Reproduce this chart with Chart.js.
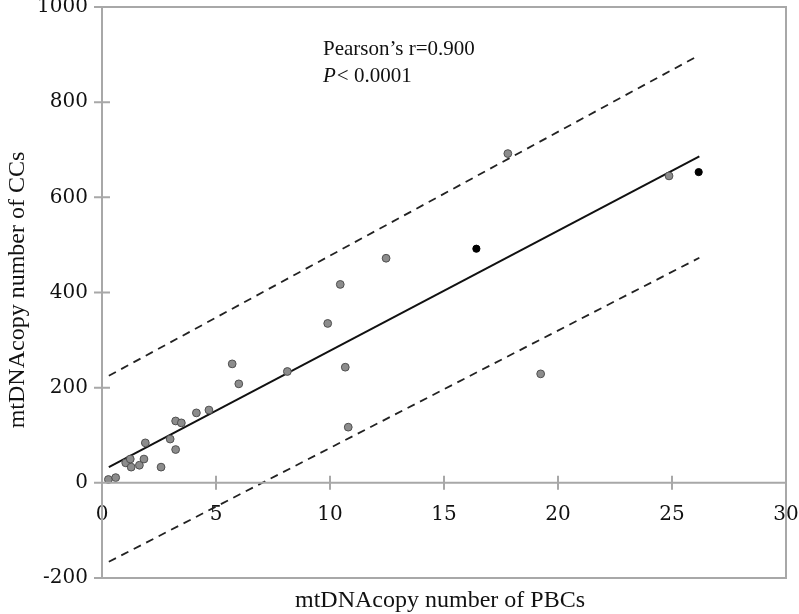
<!DOCTYPE html>
<html>
<head>
<meta charset="utf-8">
<script src="https://cdn.jsdelivr.net/npm/chart.js@4.4.1/dist/chart.umd.min.js"></script>
<style>
html, body { margin: 0; padding: 0; background: #fff; }
</style>
</head>
<body>
<canvas id="chart" width="799" height="614"></canvas>
<script>
// mtDNA copy number: PBCs (x) vs CCs (y)
var pbcX = [0.28, 0.60, 1.04, 1.24, 1.28, 1.64, 1.84, 1.90, 2.59, 2.99, 3.23, 3.23, 3.48, 4.14, 4.69,
            5.71, 6.00, 8.13, 9.90, 10.45, 10.67, 10.80, 12.46, 17.80, 19.24, 24.87];
var ccY = [7, 11, 42, 50, 33, 37, 50, 84, 33, 92, 70, 130, 126, 147, 153,
           250, 208, 234, 335, 417, 243, 117, 472, 692, 229, 645];

// two highlighted (black) samples
var blackX = [16.42, 26.17];
var blackY = [492, 653];

// regression line and prediction band ends
var fitX = [0.3, 26.2];
var fitY = [33, 686];
var upperY = [225, 899];
var lowerY = [-166, 473];

var xTicks = [0, 5, 10, 15, 20, 25, 30];
var yTicks = [-200, 0, 200, 400, 600, 800, 1000];

function pairs(xs, ys) {
  return xs.map(function (x, i) { return { x: x, y: ys[i] }; });
}

var axisGrey = '#a8a8a8';
var tickFont = { family: 'DejaVu Serif', size: 20 };
var titleFont = '24px "Liberation Serif"';
var noteFont = '21px "Liberation Serif"';

// frame, zero line, tick marks, titles and the r / P note
var decorations = {
  id: 'decorations',
  afterDatasetsDraw: function (chart) {
    var ctx = chart.ctx;
    var a = chart.chartArea;
    var xs = chart.scales.x;
    var ys = chart.scales.y;
    var y0 = ys.getPixelForValue(0);

    ctx.save();
    ctx.strokeStyle = axisGrey;
    ctx.lineWidth = 2;
    ctx.strokeRect(a.left, a.top, a.right - a.left, a.bottom - a.top);

    ctx.beginPath();
    ctx.moveTo(a.left, y0);
    ctx.lineTo(a.right, y0);
    yTicks.forEach(function (v) {
      var p = ys.getPixelForValue(v);
      ctx.moveTo(a.left - 8, p);
      ctx.lineTo(a.left + 8, p);
    });
    xTicks.forEach(function (v) {
      var p = xs.getPixelForValue(v);
      ctx.moveTo(p, y0 - 7);
      ctx.lineTo(p, y0 + 7);
    });
    ctx.stroke();

    ctx.fillStyle = '#111';
    ctx.font = titleFont;
    ctx.textAlign = 'center';
    ctx.textBaseline = 'middle';
    ctx.fillText('mtDNAcopy number of PBCs', 440, 601);

    ctx.translate(18, 290);
    ctx.rotate(-Math.PI / 2);
    ctx.fillText('mtDNAcopy number of CCs', 0, 0);
    ctx.restore();

    ctx.save();
    ctx.fillStyle = '#111';
    ctx.textAlign = 'left';
    ctx.textBaseline = 'alphabetic';
    ctx.font = noteFont;
    ctx.fillText('Pearson\u2019s r=0.900', 323, 55);
    ctx.font = 'italic 21px "Liberation Serif"';
    ctx.fillText('P', 323, 82);
    var w = ctx.measureText('P').width;
    ctx.font = noteFont;
    ctx.fillText('< 0.0001', 323 + w + 1, 82);
    ctx.restore();
  }
};

var config = {
  type: 'scatter',
  data: {
    datasets: [
      {
        data: pairs(pbcX, ccY),
        pointRadius: 3.9,
        backgroundColor: '#8c8c8c',
        borderColor: '#505050',
        borderWidth: 1
      },
      {
        data: pairs(blackX, blackY),
        pointRadius: 3.6,
        backgroundColor: '#000',
        borderColor: '#000',
        borderWidth: 1
      },
      {
        data: pairs(fitX, fitY),
        showLine: true,
        pointRadius: 0,
        borderColor: '#111',
        borderWidth: 2
      },
      {
        data: pairs(fitX, upperY),
        showLine: true,
        pointRadius: 0,
        borderColor: '#222',
        borderWidth: 1.8,
        borderDash: [8, 6]
      },
      {
        data: pairs(fitX, lowerY),
        showLine: true,
        pointRadius: 0,
        borderColor: '#222',
        borderWidth: 1.8,
        borderDash: [8, 6]
      }
    ]
  },
  options: {
    responsive: false,
    animation: false,
    layout: { padding: { top: 7, right: 13, bottom: 36, left: 0 } },
    plugins: {
      legend: { display: false },
      tooltip: { enabled: false }
    },
    scales: {
      x: {
        type: 'linear',
        min: 0,
        max: 30,
        position: { y: 0 },
        grid: { display: false, drawTicks: false },
        border: { display: false },
        ticks: { stepSize: 5, color: '#111', font: tickFont, padding: 20, maxRotation: 0 },
        afterFit: function (scale) {
          scale.paddingLeft = 0;
          scale.paddingRight = 0;
        }
      },
      y: {
        type: 'linear',
        min: -200,
        max: 1000,
        grid: { display: false, drawTicks: false },
        border: { display: false },
        ticks: {
          stepSize: 200,
          color: '#111',
          font: tickFont,
          padding: 14,
          callback: function (v) { return String(v); }
        },
        afterFit: function (scale) {
          scale.width = 102;
          scale.paddingTop = 0;
          scale.paddingBottom = 0;
        }
      }
    }
  },
  plugins: [decorations]
};

var myChart = new Chart(document.getElementById('chart'), config);
</script>
</body>
</html>
